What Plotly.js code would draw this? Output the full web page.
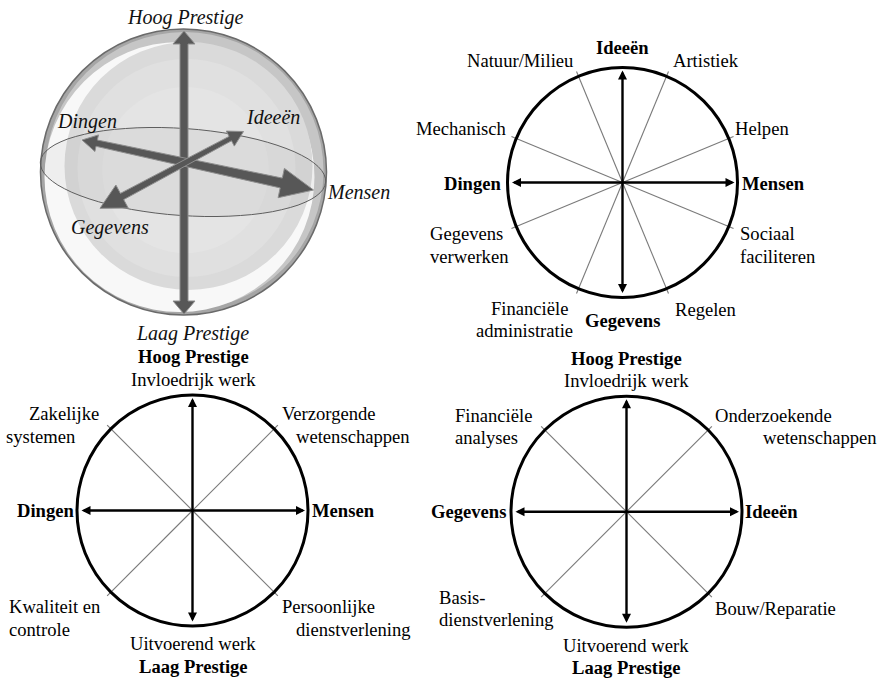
<!DOCTYPE html>
<html><head><meta charset="utf-8">
<script src="https://cdn.plot.ly/plotly-3.0.1.min.js"></script>
<style>
html,body{margin:0;padding:0;background:#fff}
.modebar,.modebar-container{display:none !important}
</style>
</head><body><div id="chart"></div>
<script>
// ---------------- DATA ----------------
const sphereLabels = ["Hoog Prestige", "Laag Prestige", "Dingen", "Ideeën", "Mensen", "Gegevens"];
const riasecAxisLabels = ["Ideeën", "Mensen", "Gegevens", "Dingen"];
const riasecSpokeAngles = [67.5, 22.5, -22.5, -67.5, -112.5, -157.5, 157.5, 112.5];
const riasecSpokeLabels = ["Artistiek", "Helpen", "Sociaal\nfaciliteren", "Regelen",
  "Financiële\nadministratie", "Gegevens\nverwerken", "Mechanisch", "Natuur/Milieu"];
const prestigeSubLabels = ["Invloedrijk werk", "Uitvoerend werk"];
const panel3AxisLabels = ["Hoog Prestige", "Mensen", "Laag Prestige", "Dingen"];
const panel3SpokeAngles = [45, -45, -135, 135];
const panel3SpokeLabels = ["Verzorgende\nwetenschappen", "Persoonlijke\ndienstverlening",
  "Kwaliteit en\ncontrole", "Zakelijke\nsystemen"];
const panel4AxisLabels = ["Hoog Prestige", "Ideeën", "Laag Prestige", "Gegevens"];
const panel4SpokeAngles = [45, -45, -135, 135];
const panel4SpokeLabels = ["Onderzoekende\nwetenschappen", "Bouw/Reparatie",
  "Basis-\ndienstverlening", "Financiële\nanalyses"];

(function () {
  const FONT = "Liberation Serif";
  const FS = 18.6;
  const geo = {
    sphere: {cx: 183.5, cy: 172, r: 143},
    riasec: {cx: 622.5, cy: 182.5, r: 115},
    p3: {cx: 192.5, cy: 510.5, r: 115.5},
    p4: {cx: 626.5, cy: 511.7, r: 115.5}
  };
  const spherePos = [[185, 17], [192, 333], [87, 121], [273, 117], [358, 192], [110, 227]];
  const riasecAxisPos = [[622.7, 47.5], [773.6, 183], [622.7, 320.5], [472, 183]];
  const riasecSpokePos = [
    [[705.8, 60, 'c']], [[761.7, 128, 'c']],
    [[738.3, 233, 'l'], [738.3, 256, 'l']], [[705.7, 309, 'c']],
    [[529.5, 308, 'c'], [524.7, 330.5, 'c']], [[428, 233, 'l'], [428, 256, 'l']],
    [[461.7, 128, 'c']], [[520, 60, 'c']]
  ];
  const p3AxisPos = [[193, 356.5], [343.7, 510], [193, 666], [45.7, 510]];
  const p3SubPos = [[193, 379], [193, 643]];
  const p3SpokePos = [
    [[328.7, 413, 'c'], [352.7, 436.5, 'c']], [[328.3, 606.5, 'c'], [353.3, 629.3, 'c']],
    [[7.3, 606.5, 'l'], [7.3, 629.3, 'l']], [[64, 413, 'c'], [41.3, 436.5, 'c']]
  ];
  const p4AxisPos = [[626, 358.3], [771.3, 511], [626, 667.3], [468.5, 511]];
  const p4SubPos = [[626, 380], [626, 645]];
  const p4SpokePos = [
    [[773.3, 415, 'c'], [820.3, 437.3, 'c']], [[775.2, 608.3, 'c']],
    [[437.3, 597.3, 'l'], [437.3, 619.3, 'l']], [[453.3, 415, 'l'], [453.3, 437.3, 'l']]
  ];

  const shp = [], ann = [], trc = [];

  function addText(text, x, y, anchor, opts) {
    opts = opts || {};
    ann.push({
      text: opts.bold ? '<b>' + text + '</b>' : (opts.italic ? '<i>' + text + '</i>' : text),
      x: x, y: y, xref: 'x', yref: 'y', showarrow: false,
      xanchor: anchor === 'l' ? 'left' : 'center', yanchor: 'middle',
      font: {family: FONT, size: opts.size || FS, color: opts.color || '#000'}
    });
  }

  // Sphere
  const g = geo.sphere;
  const circ = (cx, cy, r, fill, line, lw) => shp.push({
    type: 'circle', xref: 'x', yref: 'y', x0: cx - r, x1: cx + r, y0: cy - r, y1: cy + r,
    fillcolor: fill, line: {color: line || 'rgba(0,0,0,0)', width: lw || 0}
  });
  circ(g.cx, g.cy, g.r, '#a6a6a6', '#6a6a6a', 1.5);
  circ(g.cx + 1, g.cy - 1, g.r - 4, '#c6c6c6');
  circ(g.cx - 4, g.cy + 5, g.r - 8, '#f8f8f8');
  circ(g.cx + 5, g.cy - 6, g.r - 19, '#dadada');
  circ(g.cx + 3, g.cy - 4, g.r - 34, '#e0e0e0');
  circ(g.cx + 2, g.cy - 2, g.r - 60, '#e4e4e4');
  const ea = 143, eb = 43.5, rot = 4 * Math.PI / 180, ecx = 183, ecy = 172;
  let p = '';
  for (let i = 0; i <= 72; i++) {
    const t = i / 72 * 2 * Math.PI;
    const ex = ea * Math.cos(t), ey = eb * Math.sin(t);
    p += (i === 0 ? 'M' : 'L') + (ecx + ex * Math.cos(rot) - ey * Math.sin(rot)).toFixed(1) + ',' +
      (ecy + ex * Math.sin(rot) + ey * Math.cos(rot)).toFixed(1);
  }
  shp.push({type: 'path', path: p + 'Z', xref: 'x', yref: 'y',
    fillcolor: 'rgba(110,110,110,0.07)', line: {color: '#5e5e5e', width: 1}});

  function arrow(x1, y1, x2, y2, w1, w2, l1, hw1, l2, hw2) {
    const dx = x2 - x1, dy = y2 - y1, L = Math.hypot(dx, dy);
    const ux = dx / L, uy = dy / L, nx = -uy, ny = ux;
    const b1 = [x1 + ux * l1, y1 + uy * l1], b2 = [x2 - ux * l2, y2 - uy * l2];
    const pts = [[x1, y1],
      [b1[0] + nx * hw1 / 2, b1[1] + ny * hw1 / 2], [b1[0] + nx * w1 / 2, b1[1] + ny * w1 / 2],
      [b2[0] + nx * w2 / 2, b2[1] + ny * w2 / 2], [b2[0] + nx * hw2 / 2, b2[1] + ny * hw2 / 2],
      [x2, y2],
      [b2[0] - nx * hw2 / 2, b2[1] - ny * hw2 / 2], [b2[0] - nx * w2 / 2, b2[1] - ny * w2 / 2],
      [b1[0] - nx * w1 / 2, b1[1] - ny * w1 / 2], [b1[0] - nx * hw1 / 2, b1[1] - ny * hw1 / 2]];
    shp.push({type: 'path', xref: 'x', yref: 'y',
      path: pts.map((q, i) => (i ? 'L' : 'M') + q[0].toFixed(1) + ',' + q[1].toFixed(1)).join('') + 'Z',
      fillcolor: '#575757', line: {color: '#8e8e8e', width: 1}});
  }
  arrow(184, 31, 184, 314, 8, 8, 13, 22, 13, 22);
  arrow(82, 140, 313.5, 190, 6.5, 10, 15, 17, 33, 30);
  arrow(243.5, 131.5, 100, 208.3, 5, 7, 15, 17, 25, 26);
  sphereLabels.forEach((t, i) => addText(t, spherePos[i][0], spherePos[i][1], 'c',
    {italic: true, size: 20, color: '#111'}));

  function panel(g, angles, spokeLabels, spokePos, axisLabels, axisPos, subLabels, subPos) {
    const xs = [], ys = [];
    angles.forEach(a => {
      const rad = a * Math.PI / 180;
      xs.push(g.cx, g.cx + 1.045 * g.r * Math.cos(rad), null);
      ys.push(g.cy, g.cy - 1.045 * g.r * Math.sin(rad), null);
    });
    trc.push({type: 'scatter', mode: 'lines', x: xs, y: ys, hoverinfo: 'skip',
      line: {color: '#7a7a7a', width: 1.1}, showlegend: false});
    shp.push({type: 'circle', xref: 'x', yref: 'y', x0: g.cx - g.r, x1: g.cx + g.r,
      y0: g.cy - g.r, y1: g.cy + g.r, fillcolor: 'rgba(0,0,0,0)', line: {color: '#000', width: 3}});
    const e = g.r - 3;
    [[g.cx + e, g.cy, g.cx - e, g.cy], [g.cx, g.cy - e, g.cx, g.cy + e]].forEach(s => {
      ann.push({text: '', x: s[0], y: s[1], ax: s[2], ay: s[3], xref: 'x', yref: 'y',
        axref: 'x', ayref: 'y', showarrow: true, arrowside: 'end+start',
        arrowhead: 2, startarrowhead: 2, arrowsize: 0.75, startarrowsize: 0.75,
        arrowwidth: 2.4, arrowcolor: '#000', standoff: 0, startstandoff: 0});
    });
    axisLabels.forEach((t, i) => addText(t, axisPos[i][0], axisPos[i][1], 'c', {bold: true}));
    if (subLabels) subLabels.forEach((t, i) => addText(t, subPos[i][0], subPos[i][1], 'c'));
    spokeLabels.forEach((t, i) => t.split('\n').forEach((line, j) => {
      const pp = spokePos[i][j];
      addText(line, pp[0], pp[1], pp[2]);
    }));
  }
  panel(geo.riasec, riasecSpokeAngles, riasecSpokeLabels, riasecSpokePos, riasecAxisLabels, riasecAxisPos);
  panel(geo.p3, panel3SpokeAngles, panel3SpokeLabels, p3SpokePos, panel3AxisLabels, p3AxisPos, prestigeSubLabels, p3SubPos);
  panel(geo.p4, panel4SpokeAngles, panel4SpokeLabels, p4SpokePos, panel4AxisLabels, p4AxisPos, prestigeSubLabels, p4SubPos);

  Plotly.newPlot('chart', trc, {
    width: 880, height: 678,
    margin: {l: 0, r: 0, t: 0, b: 0},
    font: {family: FONT, size: FS},
    xaxis: {range: [0, 880], visible: false},
    yaxis: {range: [678, 0], visible: false},
    shapes: shp, annotations: ann, showlegend: false
  });
})();
</script>
</body></html>
